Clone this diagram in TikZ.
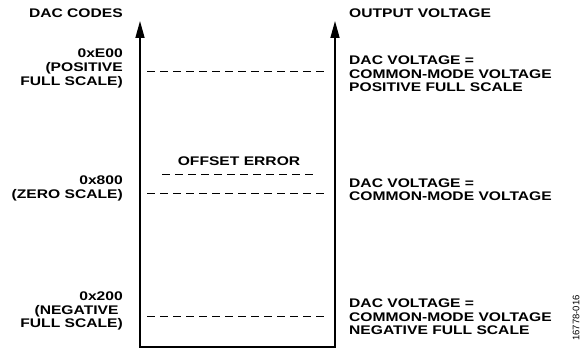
\documentclass[tikz,border=0pt]{standalone}
\usepackage{fontspec}
\newfontfamily\lbl{Liberation Sans}[FakeStretch=1.25]
\newfontfamily\idfont{Liberation Sans}
\usetikzlibrary{arrows.meta}
\begin{document}
\begin{tikzpicture}[x=1pt,y=-1pt,
  lab/.style={inner sep=0pt,font=\lbl\bfseries\fontsize{12.5}{13.5}\selectfont},
  lft/.style={lab,anchor=base east},
  rgt/.style={lab,anchor=base west},
  axis/.style={line width=1.6pt,-{Triangle[length=17pt,width=9pt]}},
  base/.style={line width=1.6pt},
  lvl/.style={line width=0.9pt,dash pattern=on 7.5pt off 5.5pt}]
\useasboundingbox (0,0) rectangle (585,350);
% axes
\coordinate (bl) at (140,347);
\coordinate (br) at (335,347);
\coordinate (tl) at (140,21);
\coordinate (tr) at (335,21);
\draw[base] ([xshift=-0.8pt]bl) -- ([xshift=0.8pt]br);
\draw[axis] (bl) -- (tl);
\draw[axis] (br) -- (tr);
% headings
\node[lft] (hcodes) at (123,17.2) {DAC CODES};
\node[rgt] (hout) at (349,17.2) {OUTPUT VOLTAGE};
% positive full scale
\node[lft] (p1) at (123,58) {0xE00};
\node[lft] (p2) at (123,71.5) {(POSITIVE};
\node[lft] (p3) at (123,85) {FULL SCALE)};
\coordinate (pd1) at (147,71);
\coordinate (pd2) at (329,71);
\draw[lvl] (pd1) -- (pd2);
\node[rgt] (pr1) at (349,64.5) {DAC VOLTAGE =};
\node[rgt] (pr2) at (349,78) {COMMON-MODE VOLTAGE};
\node[rgt] (pr3) at (349,91.5) {POSITIVE FULL SCALE};
% zero scale
\node[lab,anchor=base] (off) at (239,165.5) {OFFSET ERROR};
\coordinate (od1) at (162,174);
\coordinate (od2) at (317,174);
\draw[lvl] (od1) -- (od2);
\node[lft] (z1) at (123,184.5) {0x800};
\node[lft] (z2) at (123,198) {(ZERO SCALE)};
\coordinate (zd1) at (147,193);
\coordinate (zd2) at (329,193);
\draw[lvl] (zd1) -- (zd2);
\node[rgt] (zr1) at (349,187) {DAC VOLTAGE =};
\node[rgt] (zr2) at (349,200.5) {COMMON-MODE VOLTAGE};
% negative full scale
\node[lft] (n1) at (123,300.5) {0x200};
\node[lft] (n2) at (123,314) {(NEGATIVE\hspace*{4.3pt}};
\node[lft] (n3) at (123,327.5) {FULL SCALE)};
\coordinate (nd1) at (147,316);
\coordinate (nd2) at (329,316);
\draw[lvl] (nd1) -- (nd2);
\node[rgt] (nr1) at (349,307.5) {DAC VOLTAGE =};
\node[rgt] (nr2) at (349,321) {COMMON-MODE VOLTAGE};
\node[rgt] (nr3) at (349,334.5) {NEGATIVE FULL SCALE};
% figure id
\node[inner sep=0pt,rotate=90,font=\idfont\fontsize{9.5}{10}\selectfont] (fid) at (576,318) {16778-016};
\end{tikzpicture}
\end{document}
